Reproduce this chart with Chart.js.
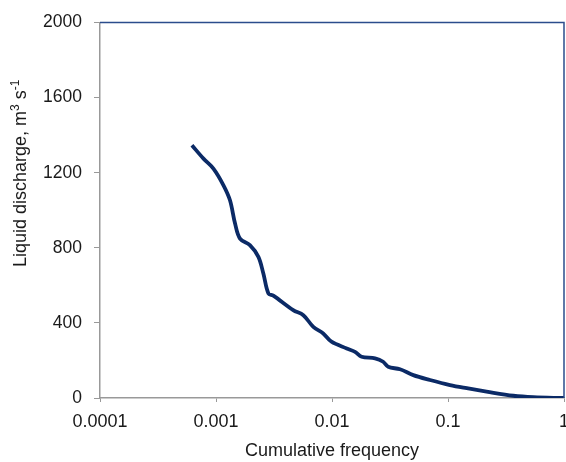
<!DOCTYPE html>
<html>
<head>
<meta charset="utf-8">
<script src="https://cdn.jsdelivr.net/npm/chart.js@4/dist/chart.umd.min.js"></script>
<style>
	html, body { margin: 0; padding: 0; background: #fff; }
	#wrap { width: 566px; height: 462px; }
</style>
</head>
<body>
<div id="wrap"><canvas id="flowChart" width="566" height="462"></canvas></div>
<script>
// Valores
var freqList = [0.00062, 0.00078, 0.00095, 0.00116, 0.00132, 0.00146, 0.00161, 0.00196, 0.00232,
	0.00256, 0.00283, 0.00312, 0.00463, 0.00566, 0.0069, 0.0084, 0.0099, 0.0134, 0.0158, 0.018,
	0.0235, 0.0276, 0.0305, 0.0386, 0.0502, 0.070, 0.104, 0.145, 0.215, 0.366, 0.543, 1];
var dischargeList = [1346, 1275, 1222, 1133, 1053, 929, 849, 814, 752,
	663, 557, 545, 468, 441, 379, 344, 300, 264, 246, 220,
	211, 193, 166, 153, 122, 96, 69, 52, 34, 12, 4, 0];
var xTickList = [0.0001, 0.001, 0.01, 0.1, 1];
var yTickList = [0, 400, 800, 1200, 1600, 2000];

var points = [];
for (var i = 0; i < freqList.length; i++) {
	points.push({ x: freqList[i], y: dischargeList[i] });
}

var family = "'Liberation Sans', Arial, sans-serif";

//Marco superior y derecho del area de dibujo
var frame = {
	id: 'frame',
	afterDraw: function(chart) {
		var a = chart.chartArea;
		var ctx = chart.ctx;
		ctx.save();
		ctx.strokeStyle = '#2b4c8c';
		ctx.lineWidth = 1.5;
		ctx.beginPath();
		ctx.moveTo(a.left, a.top);
		ctx.lineTo(a.right, a.top);
		ctx.lineTo(a.right, a.bottom);
		ctx.stroke();
		ctx.restore();
	}
};

//Titulo del eje Y con superindices
var yTitle = {
	id: 'yTitle',
	afterDraw: function(chart) {
		var ctx = chart.ctx;
		var parts = [['Liquid discharge, m', 0], ['3', 1], [' s', 0], ['-1', 1]];
		ctx.save();
		ctx.translate(26, 267);
		ctx.rotate(-Math.PI / 2);
		ctx.fillStyle = '#1a1a1a';
		ctx.textBaseline = 'alphabetic';
		var x = 0;
		parts.forEach(function(p) {
			ctx.font = (p[1] ? '12px ' : '18px ') + family;
			ctx.fillText(p[0], x, p[1] ? -7 : 0);
			x += ctx.measureText(p[0]).width;
		});
		ctx.restore();
	}
};

var ctx = document.getElementById('flowChart').getContext('2d');
var chart = new Chart(ctx, {
	type: 'line',
	data: {
		datasets: [{
			data: points,
			borderColor: '#0b2a66',
			borderWidth: 3.8,
			pointRadius: 0,
			tension: 0.35,
			fill: false
		}]
	},
	options: {
		responsive: false,
		animation: false,
		layout: { padding: { top: 22, right: 2, left: 0, bottom: 0 } },
		plugins: { legend: { display: false }, tooltip: { enabled: false } },
		scales: {
			x: {
				type: 'logarithmic',
				min: 0.0001,
				max: 1,
				afterBuildTicks: function(s) {
					s.ticks = xTickList.map(function(v) { return { value: v }; });
				},
				afterFit: function(s) {
					s.paddingRight = 0;
					s.height = 64;
				},
				ticks: {
					color: '#1a1a1a',
					font: { family: family, size: 18 },
					padding: 9,
					maxRotation: 0,
					autoSkip: false,
					callback: function(v) { return String(v); }
				},
				grid: { drawOnChartArea: false, tickLength: 4, color: '#999' },
				border: { color: '#999', width: 1.5 },
				title: { display: true, text: 'Cumulative frequency', color: '#1a1a1a', font: { family: family, size: 18 }, padding: { top: 4, bottom: 0 } }
			},
			y: {
				min: 0,
				max: 2000,
				afterBuildTicks: function(s) {
					s.ticks = yTickList.map(function(v) { return { value: v }; });
				},
				afterFit: function(s) {
					s.width = 100;
				},
				ticks: {
					color: '#1a1a1a',
					font: { family: family, size: 17.5 },
					padding: 12,
					callback: function(v) { return String(v); }
				},
				grid: { drawOnChartArea: false, tickLength: 6, color: '#999' },
				border: { color: '#999', width: 1.5 },
				title: { display: false }
			}
		}
	},
	plugins: [frame, yTitle]
});
</script>
</body>
</html>
